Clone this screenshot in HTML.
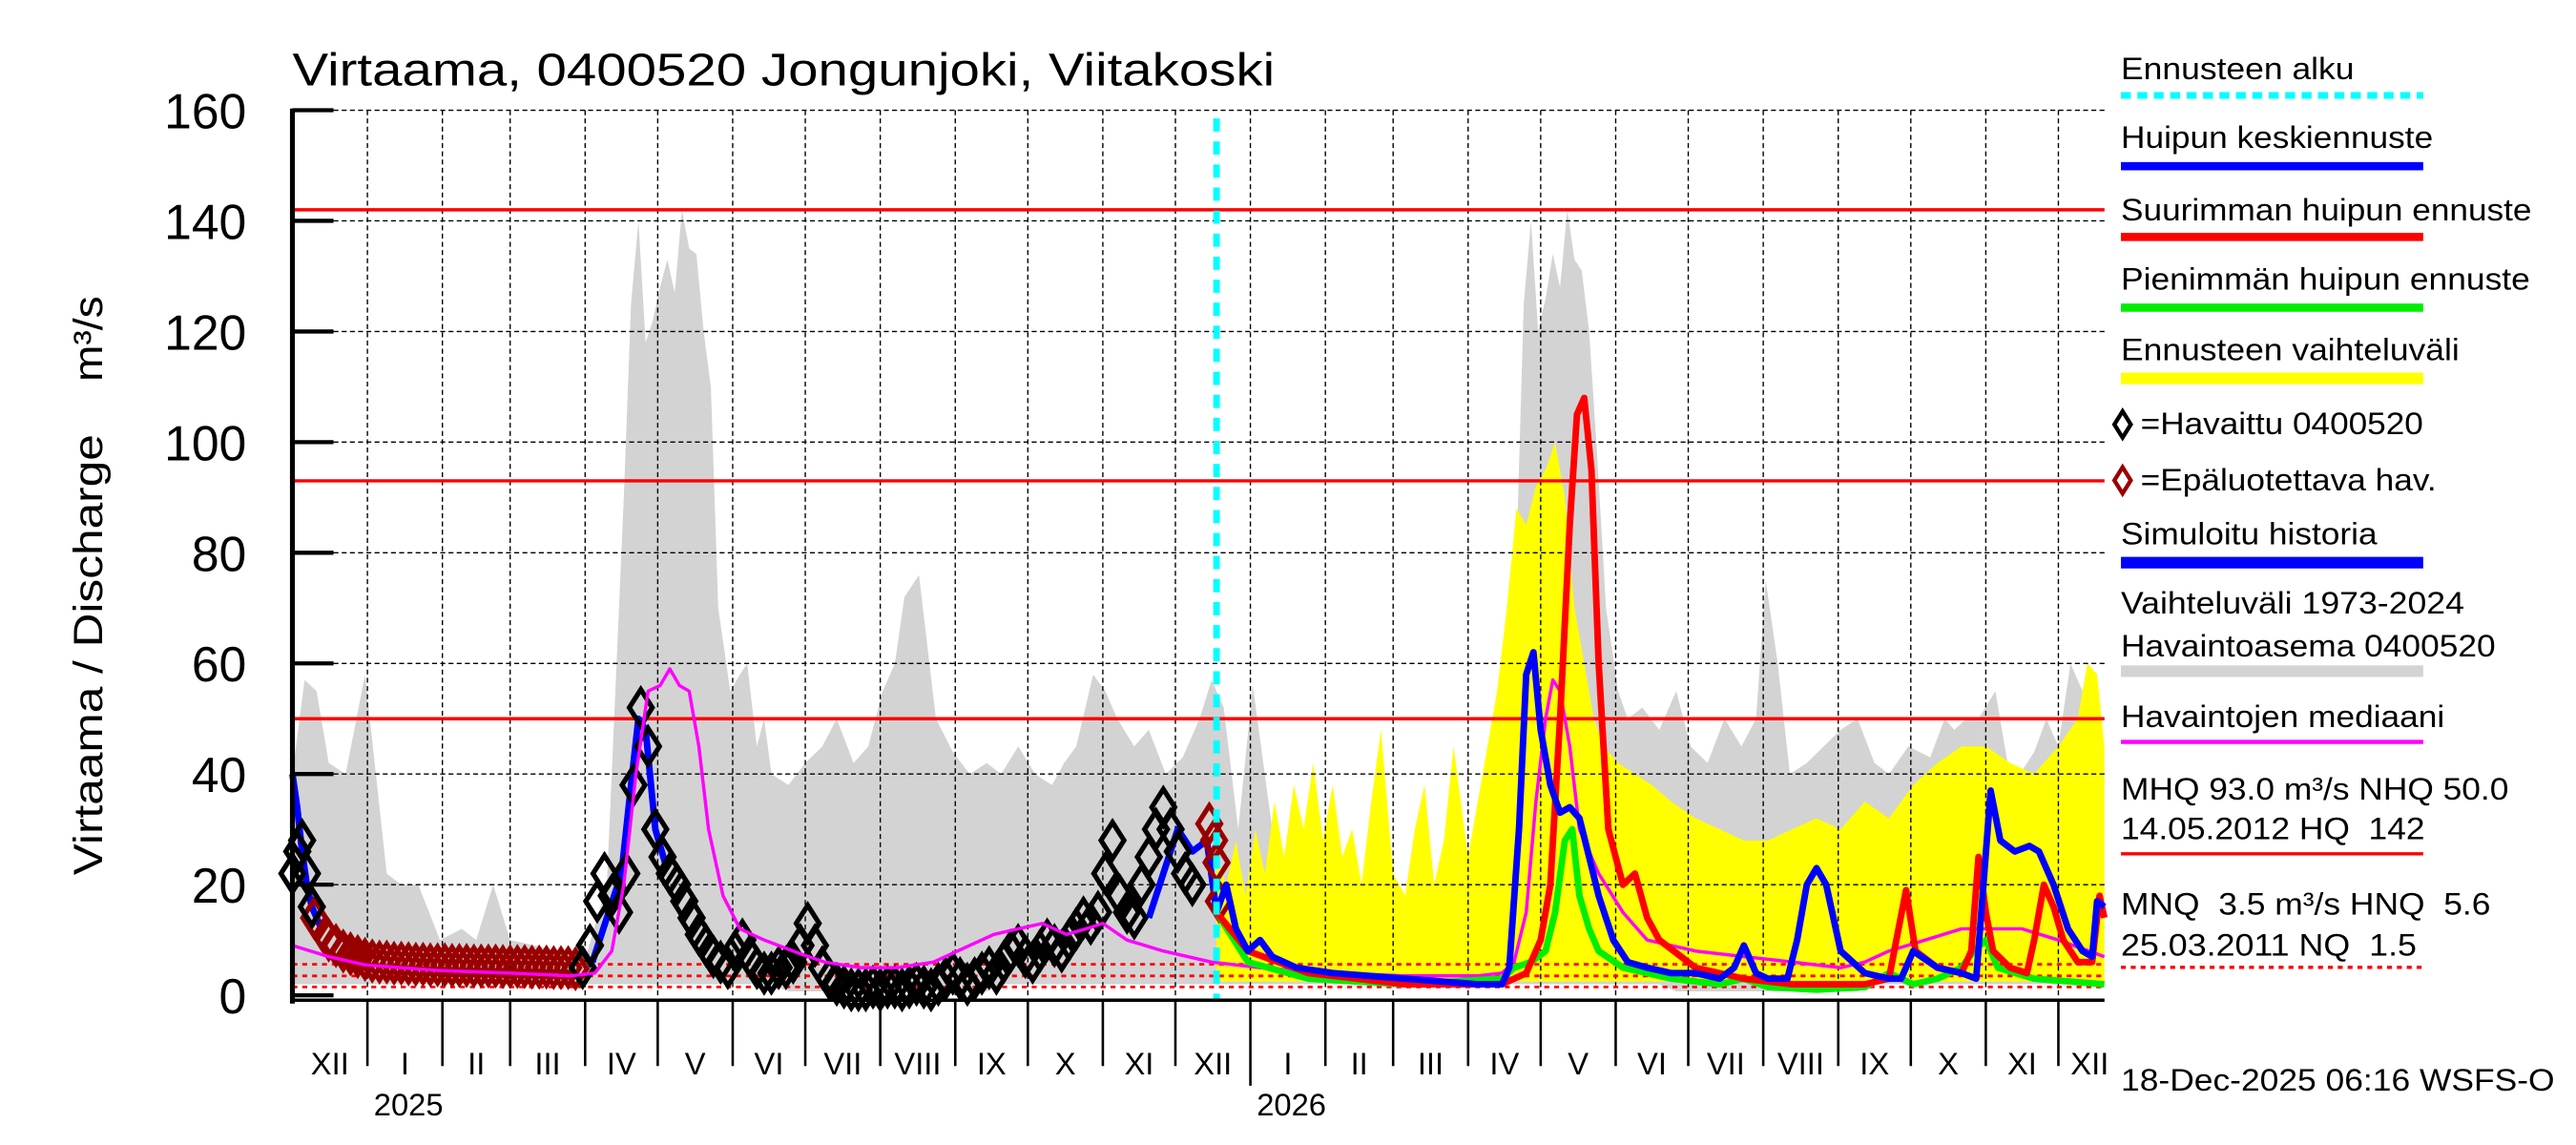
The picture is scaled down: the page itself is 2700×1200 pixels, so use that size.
<!DOCTYPE html>
<html><head><meta charset="utf-8">
<style>
html,body{margin:0;padding:0;background:#fff;}
svg{display:block;font-family:"Liberation Sans",sans-serif;}
</style></head>
<body>
<svg id="chart" width="2700" height="1200" viewBox="0 0 1568 696" preserveAspectRatio="none" xmlns="http://www.w3.org/2000/svg">
<rect x="0" y="0" width="1568" height="696" fill="#fff"/>
<text x="178" y="52" font-size="28" textLength="598" lengthAdjust="spacingAndGlyphs">Virtaama, 0400520 Jongunjoki, Viitakoski</text>
<text transform="translate(62,532) rotate(-90)" font-size="25" textLength="268" lengthAdjust="spacingAndGlyphs">Virtaama / Discharge</text>
<text transform="translate(62,232) rotate(-90)" font-size="25" textLength="52" lengthAdjust="spacingAndGlyphs">m³/s</text>
<g id="gArea"></g><g id="gGrid"></g><g id="gRef"></g><g id="gSeries"></g><g id="gAxis"></g>
<g id="legend" font-size="19"></g>
<text x="1291" y="663" font-size="19" textLength="264" lengthAdjust="spacingAndGlyphs">18-Dec-2025 06:16 WSFS-O</text>
</svg>
<script>
// ---- data (day offsets from 2024-12-01) ----
const histDays=[0,5,10,15,22,30,39,45,52,61,70,76,83,90,100,110,122,130,134,137,140,143,146,149,152,155,158,161,164,167,170,173,176,181,185,188,192,195,198,205,212,219,225,232,238,244,249,253,259,266,273,280,287,293,300,307,314,319,324,331,336,341,348,354,361,368,375,380,385,391,397,405,413,422,430,443,452,463,475,490,498,502,506,509,512,515,518,521,524,527,530,533,536,539,543,548,552,558,565,572,578,585,592,599,605,609,614,619,626,633,640,647,654,660,668,677,683,687,692,697,704,709,714,720,725,730,735,740,742,746,749];
const histMax=[40,57,55,42,40,58,22,20,20,10,12,10,20,10,9,8,8,20,60,90,125,140,118,122,128,133,127,142,135,134,120,110,70,55,58,60,45,50,40,38,42,45,50,42,45,55,60,72,76,50,44,40,42,40,45,40,38,42,45,58,55,50,45,48,40,43,50,57,52,30,56,30,22,20,20,15,13,12,12,15,20,35,80,125,140,120,126,134,128,142,133,131,120,100,70,55,50,52,48,55,45,42,50,45,50,75,60,40,42,45,48,50,42,40,45,43,50,48,50,50,55,42,40,44,50,45,60,55,58,52,45,40];
const histMin=histDays.map((d)=> (d>200&&d<290)||(d>570&&d<650)?0.7:2);
const fcDays=[382,386,390,394,398,402,406,410,414,418,422,426,430,434,438,442,446,450,455,460,464,468,472,476,480,486,492,498,502,506,510,514,518,522,526,530,534,538,542,548,555,562,570,580,590,600,610,620,630,640,650,660,670,680,690,700,710,720,730,738,742,746,749];
const fcMax=[25,20,28,18,30,22,35,25,38,30,42,28,38,25,30,20,35,48,22,18,30,38,20,28,45,25,40,55,70,88,85,92,95,100,90,70,60,50,45,42,40,38,35,32,30,28,28,30,32,30,35,32,38,42,45,45,42,40,45,50,60,58,45];
const fcMin=fcDays.map(()=>2.5);
const simDays=[0,2,4,6,8,12,124,130,136,140,143,146,150,154,354,360,366,372,378,382];
const simVals=[40,34,26,20,16,12,6,14,22,38,50,48,30,24,14,22,30,26,28,15];
const meanDays=[382,386,390,395,400,405,415,430,460,490,500,503,507,510,513,516,520,524,528,532,536,540,546,552,560,570,580,590,596,600,605,610,618,622,626,630,634,640,650,660,665,670,680,690,696,699,702,706,712,718,722,728,734,740,744,746,749];
const meanVals=[15,20,12,8,10,7,5,4,3,2,2,5,30,58,62,48,38,33,34,32,25,18,10,6,5,4,4,3,5,9,4,3,3,10,20,23,20,8,4,3,3,8,5,4,3,20,37,28,26,27,26,20,12,8,7,17,16];
const maxDays=[382,395,420,460,500,510,516,520,524,528,531,534,537,540,544,550,555,560,565,580,600,620,650,660,663,667,671,680,690,694,697,700,703,710,717,720,724,728,732,738,744,747,749];
const maxVals=[15,8,4,2,2,4,10,20,50,85,105,108,95,60,30,20,22,14,10,5,3,2,2,3,10,19,8,5,4,8,25,15,8,5,4,10,20,16,10,6,6,18,14];
const minDays=[382,395,420,460,500,505,512,518,522,526,529,532,536,540,550,570,590,600,610,630,650,660,670,680,690,695,700,705,720,749];
const minVals=[15,6,3,2,3,5,6,8,15,28,30,18,12,8,5,3,2,3,1.5,1,1.5,4,2,3,5,8,10,5,3,2];
const medDays=[0,15,30,60,90,115,125,132,137,142,147,152,156,160,164,168,172,178,185,195,210,220,235,250,265,280,290,300,310,320,328,335,345,360,380,400,430,460,490,500,505,510,514,518,521,524,528,532,540,550,560,580,600,620,640,650,660,675,690,700,715,730,749];
const medVals=[9,7,5.5,4.5,4,3.5,4,8,20,40,55,56,59,56,55,45,30,18,12,10,7.5,6,5,5,6,9,11,12,13,11,12,13,10,8,6,5,4,3.5,3.5,4,6,15,35,50,57,55,45,30,22,15,10,8,7,6,5,6,8,10,12,12,12,10,7];
const blackDays=[0,2,4,6,8];
const blackVals=[22,26,28,22,16];
const obsStart=120, obsStep=3;
const obsVals=[5,9,17,22,18,15,22,38,52,45,30,25,22,20,17,14,11,9,7,6,5,8,10,7,5,4,4,5,5,6,9,13,9,5,3,2,1.5,1,1,1,1.5,1,1.5,1.5,1,1.5,2,1.5,1,2,3,4,3,2,3,4,5,4,6,8,9,7,6,8,10,9,8,10,12,14,13,15,22,28,18,15,14,20,25,30,34,30,26,22,20];
const badStart=9, badStep=3;
const badVals=[14,12,10,9,8,7.5,7,6.5,6.2,6,6,5.8,5.8,5.7,5.6,5.6,5.5,5.5,5.5,5.4,5.4,5.4,5.3,5.3,5.3,5.3,5.2,5.2,5.2,5.2,5.1,5.1,5.1,5,5,5,4.8];
const badDays2=[379,381,382,383];
const badVals2=[31,28,24,17];
const yTicks=[0,20,40,60,80,100,120,140,160];
const monthNames=["XII","I","II","III","IV","V","VI","VII","VIII","IX","X","XI","XII","I","II","III","IV","V","VI","VII","VIII","IX","X","XI","XII"];
const monthLen=[31,31,28,31,30,31,30,31,31,30,31,30,31,31,28,31,30,31,30,31,31,30,31,30,31];
const refSolid=[142,93,50];
const refDotted=[5.6,3.5,1.5];
const forecastDay=382;

// ---- scales ----
const X0=178,X1=1281,PX=1.4725;
const xs=d=>X0+d*PX;
const ys=v=>605-v*3.3625;
const NS="http://www.w3.org/2000/svg";
function mk(tag,parent,attrs){const e=document.createElementNS(NS,tag);for(const k in attrs)e.setAttribute(k,attrs[k]);document.getElementById(parent).appendChild(e);return e;}
function pts(days,vals){return days.map((d,i)=>xs(d).toFixed(1)+","+ys(vals[i]).toFixed(1)).join(" ");}
function band(days,hi,lo){return pts(days,hi)+" "+pts(days.slice().reverse(),lo.slice().reverse());}

// areas
let a=mk('polygon','gArea',{points:band(histDays,histMax,histMin),fill:'#d3d3d3'});


a=mk('polygon','gArea',{points:band(fcDays,fcMax,fcMin),fill:'#ffff00'});



// grid
let cum=0;const bounds=[];
for(let i=0;i<monthLen.length;i++){bounds.push(cum);cum+=monthLen[i];}
bounds.forEach((d,i)=>{if(i===0)return;const x=xs(d);if(x>X1)return;
 const g=mk('line','gGrid',{x1:x,x2:x,y1:67,y2:607,stroke:'#000','stroke-width':0.8,'stroke-dasharray':'3,2'});
 
 });
yTicks.forEach(v=>{if(v===0)return;const g=mk('line','gGrid',{x1:X0,x2:X1,y1:ys(v),y2:ys(v),stroke:'#000','stroke-width':0.8,'stroke-dasharray':'3,2'});
 
 });

// reference lines
refSolid.forEach(v=>{const l=mk('line','gRef',{x1:X0,x2:X1,y1:ys(v),y2:ys(v),stroke:'#ff0000','stroke-width':2});
 
 });
refDotted.forEach(v=>{const l=mk('line','gRef',{x1:X0,x2:X1,y1:ys(v),y2:ys(v),stroke:'#ff0000','stroke-width':1.6,'stroke-dasharray':'3,3'});
 
 });

// series
function line(days,vals,color,w,name){const l=mk('polyline','gSeries',{points:pts(days,vals),fill:'none',stroke:color,'stroke-width':w,'stroke-linejoin':'round'});
 
 }
function diamond(d,v,color,name){const x=xs(d),y=ys(v);const p=mk('polygon','gSeries',{points:`${x},${y-11} ${x+7},${y} ${x},${y+11} ${x-7},${y}`,fill:'none',stroke:color,'stroke-width':3});
 
 }
line(simDays.slice(0,6),simVals.slice(0,6),'#0000ff',4,'simulated-history-line');
badVals.forEach((v,i)=>diamond(badStart+i*badStep,v,'#990000','unreliable-observation'));
line(simDays.slice(6,14),simVals.slice(6,14),'#0000ff',4,'simulated-history-line-spring');
line(simDays.slice(14),simVals.slice(14),'#0000ff',4,'simulated-history-line-autumn');
blackVals.forEach((v,i)=>diamond(blackDays[i],v,'#000','observation'));
obsVals.forEach((v,i)=>diamond(obsStart+i*obsStep,v,'#000','observation'));
badVals2.forEach((v,i)=>diamond(badDays2[i],v,'#990000','unreliable-observation'));
line(medDays,medVals,'#ff00ff',2,'median-line');
line(minDays,minVals,'#00ee00',4,'min-peak-forecast-line');
line(maxDays,maxVals,'#ff0000',4,'max-peak-forecast-line');
line(meanDays,meanVals,'#0000ff',4,'mean-peak-forecast-line');
let fl=mk('line','gSeries',{x1:xs(forecastDay),x2:xs(forecastDay),y1:72,y2:607,stroke:'#00ffff','stroke-width':4,'stroke-dasharray':'8,6'});



// axes
let ax=mk('line','gAxis',{x1:X0,x2:X0,y1:66,y2:610,stroke:'#000','stroke-width':3});


ax=mk('line','gAxis',{x1:X0,x2:X1,y1:608,y2:608,stroke:'#000','stroke-width':2});


yTicks.forEach(v=>{const t=mk('line','gAxis',{x1:X0,x2:X0+25,y1:ys(v),y2:ys(v),stroke:'#000','stroke-width':2.5});
 
 
 const lb=mk('text','gAxis',{x:150,y:ys(v)+11,'font-size':30,'text-anchor':'end'});
 lb.textContent=v;
 
 });
bounds.forEach((d,i)=>{const x=xs(d);
 if(i>0&&x<=X1){const t=mk('line','gAxis',{x1:x,x2:x,y1:608,y2:(i===13?660:648),stroke:'#000','stroke-width':1.5});
  
  }
 const xc=Math.min(xs(d+monthLen[i]/2),1272);if(xs(d)>X1-5)return;
 const lb=mk('text','gAxis',{x:xc,y:653,'font-size':19,'text-anchor':'middle'});
 lb.textContent=monthNames[i];
 
 });
[["2025",31],["2026",396]].forEach(([t,d])=>{const lb=mk('text','gAxis',{x:xs(d)+25,y:678,'font-size':19,'text-anchor':'middle'});
 lb.textContent=t;
 
 });

// legend
const L=[["Ennusteen alku",48,142],["Huipun keskiennuste",90,190],["Suurimman huipun ennuste",134,250],["Pienimmän huipun ennuste",176,249],["Ennusteen vaihteluväli",219,206],["Simuloitu historia",331,156],["Vaihteluväli 1973-2024",373,209],["Havaintoasema 0400520",399,228],["Havaintojen mediaani",442,197],["MHQ 93.0 m³/s NHQ 50.0",486,236],["14.05.2012 HQ\u00a0\u00a0142",510,185],["MNQ\u00a0\u00a03.5 m³/s HNQ\u00a0\u00a05.6",556,225],["25.03.2011 NQ\u00a0\u00a01.5",581,180]];
L.forEach(([t,y,w])=>{const e=mk('text','legend',{x:1291,y:y,textLength:w,lengthAdjust:'spacingAndGlyphs'});
 e.textContent=t;
 
 });
const LS=[[58,'#00ffff',4,'6,4'],[101,'#0000ff',5,''],[144,'#ff0000',5,''],[187,'#00ee00',5,''],[230,'#ffff00',7,''],[342,'#0000ff',7,''],[408,'#d3d3d3',7,''],[451,'#ff00ff',2.5,''],[519,'#ff0000',2,''],[588,'#ff0000',2,'3,3']];
LS.forEach(([y,c,w,da])=>{const e=mk('line','legend',{x1:1291,x2:1475,y1:y,y2:y,stroke:c,'stroke-width':w});
 if(da)e.setAttribute('stroke-dasharray',da);
 
 });
[[258,'#000','=Havaittu 0400520',172],[292,'#990000','=Epäluotettava hav.',180]].forEach(([y,c,t,w])=>{
 const p=mk('polygon','legend',{points:`1292,${y-8} 1297,${y} 1292,${y+8} 1287,${y}`,fill:'none',stroke:c,'stroke-width':2.5});
 
 
 const e=mk('text','legend',{x:1303,y:y+6,textLength:w,lengthAdjust:'spacingAndGlyphs'});
 e.textContent=t;
 
 });
</script>
</body></html>
